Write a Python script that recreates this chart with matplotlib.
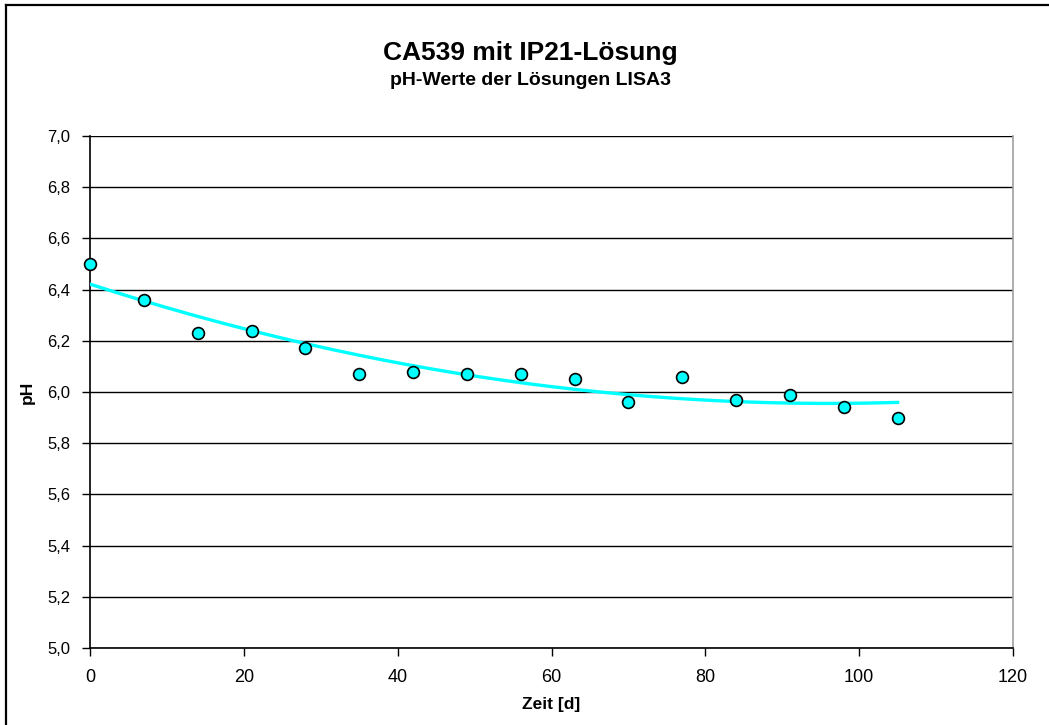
import numpy as np
import matplotlib
matplotlib.use("Agg")
import matplotlib.pyplot as plt
from matplotlib.lines import Line2D
from matplotlib.ticker import FuncFormatter, MultipleLocator

plt.rcParams['font.family'] = ['Liberation Sans', 'DejaVu Sans']

days = [0, 7, 14, 21, 28, 35, 42, 49, 56, 63, 70, 77, 84, 91, 98, 105]
ph = [6.50, 6.36, 6.23, 6.24, 6.17, 6.07, 6.08, 6.07, 6.07, 6.05,
      5.96, 6.06, 5.97, 5.99, 5.94, 5.90]

title = "CA539 mit IP21-Lösung"
subtitle = "pH-Werte der Lösungen LISA3"
xlabel = "Zeit [d]"
ylabel = "pH"

fig = plt.figure(figsize=(10.49, 7.25), dpi=100)
ax = fig.add_axes([0.0858, 0.1062, 0.8799, 0.7062])

# second-order polynomial trend line through the measurements
coef = np.polyfit(days, ph, 2)
xt = np.linspace(days[0], days[-1], 200)
ax.plot(xt, np.polyval(coef, xt), color='#00FFFF', lw=2.4, zorder=3)

ax.plot(days, ph, 'o', ms=8.5, mfc='#00FFFF', mec='black', mew=1.2,
        zorder=4, clip_on=False)

ax.set_xlim(0, 120)
ax.set_ylim(5.0, 7.0)
ax.xaxis.set_major_locator(MultipleLocator(20))
ax.yaxis.set_major_locator(MultipleLocator(0.2))
ax.yaxis.set_major_formatter(FuncFormatter(lambda v, p: f"{v:.1f}".replace('.', ',')))
ax.grid(axis='y', color='black', lw=1.0)
ax.set_axisbelow(True)
ax.spines['top'].set_visible(False)
ax.spines['right'].set_color('#a0a0a0')
ax.spines['right'].set_linewidth(1.2)
ax.spines['left'].set_linewidth(1.2)
ax.spines['bottom'].set_linewidth(1.2)
ax.tick_params(axis='both', length=6, width=1.0, direction='out')
ax.tick_params(axis='x', labelsize=13, pad=9)
ax.tick_params(axis='y', labelsize=12, pad=8)
ax.set_xlabel(xlabel, fontsize=12.5, fontweight='bold', labelpad=8)
ax.set_ylabel(ylabel, fontsize=12.5, fontweight='bold', labelpad=9)

fig.text(0.5055, 0.9172, title, ha='center', va='baseline', fontsize=19, fontweight='bold')
fig.text(0.5055, 0.8828, subtitle, ha='center', va='baseline', fontsize=14, fontweight='bold')

# chart frame: top and left edges
fig.add_artist(Line2D([6 / 1049, 6 / 1049], [0, 1 - 5 / 725], transform=fig.transFigure,
                      color='black', lw=1.6))
fig.add_artist(Line2D([6 / 1049, 1], [1 - 5 / 725, 1 - 5 / 725], transform=fig.transFigure,
                      color='black', lw=1.6))

fig.savefig("out.png", dpi=100)
